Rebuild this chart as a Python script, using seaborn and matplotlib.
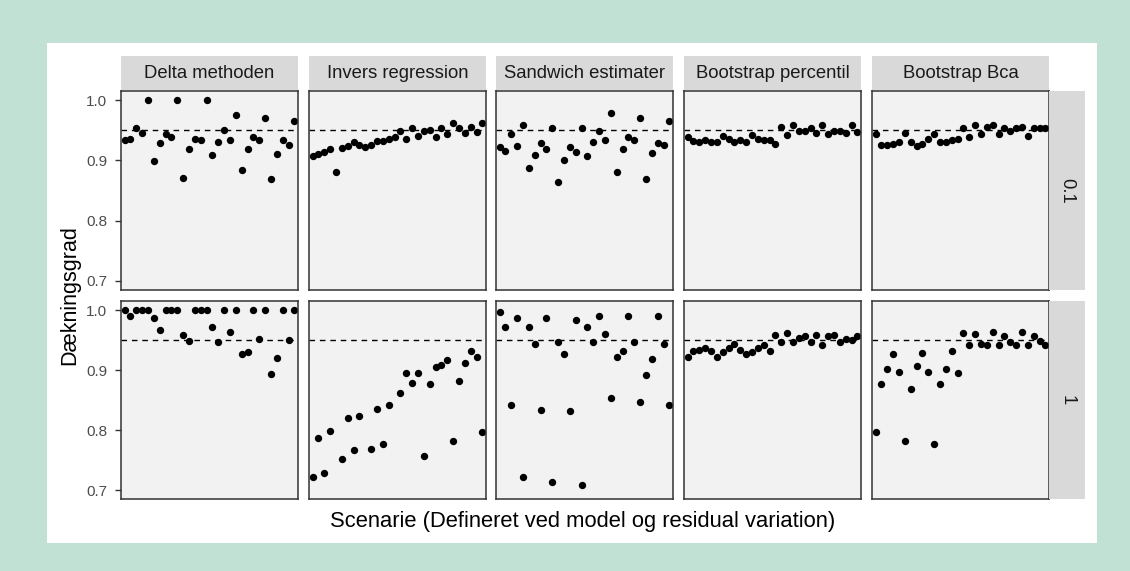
import numpy as np
import pandas as pd
import matplotlib
matplotlib.use("Agg")
import matplotlib.pyplot as plt
from matplotlib.patches import Rectangle
import seaborn as sns

# Coverage of the confidence intervals per method, scenario and residual level
methods = ["Delta methoden", "Invers regression", "Sandwich estimater",
           "Bootstrap percentil", "Bootstrap Bca"]
sigma_levels = ["0.1", "1"]
scenarios = list(range(1, 31))
nominal = 0.95
y_ticks = [0.7, 0.8, 0.9, 1.0]
y_tick_labels = ["0.7", "0.8", "0.9", "1.0"]
x_title = "Scenarie (Defineret ved model og residual variation)"
y_title = "Dækningsgrad"

delta_01 = [0.933, 0.935, 0.953, 0.946, 1.000, 0.899, 0.929, 0.943, 0.938, 1.000,
            0.871, 0.919, 0.935, 0.933, 1.000, 0.909, 0.931, 0.951, 0.933, 0.975,
            0.884, 0.919, 0.938, 0.933, 0.970, 0.869, 0.911, 0.933, 0.925, 0.965]
invers_01 = [0.908, 0.911, 0.914, 0.919, 0.881, 0.921, 0.924, 0.930, 0.926, 0.922,
             0.926, 0.932, 0.932, 0.935, 0.938, 0.948, 0.935, 0.954, 0.941, 0.948,
             0.951, 0.938, 0.954, 0.943, 0.962, 0.953, 0.945, 0.956, 0.947, 0.962]
sandwich_01 = [0.922, 0.916, 0.943, 0.923, 0.958, 0.887, 0.909, 0.929, 0.919, 0.953,
               0.864, 0.901, 0.922, 0.914, 0.953, 0.907, 0.931, 0.948, 0.934, 0.978,
               0.881, 0.919, 0.938, 0.934, 0.970, 0.869, 0.913, 0.929, 0.926, 0.966]
bperc_01 = [0.938, 0.932, 0.930, 0.933, 0.931, 0.930, 0.941, 0.935, 0.930, 0.934,
            0.930, 0.942, 0.935, 0.934, 0.934, 0.927, 0.955, 0.942, 0.958, 0.948,
            0.948, 0.953, 0.945, 0.958, 0.943, 0.948, 0.949, 0.945, 0.958, 0.947]
bbca_01 = [0.943, 0.925, 0.926, 0.927, 0.931, 0.946, 0.930, 0.924, 0.927, 0.935,
           0.944, 0.930, 0.931, 0.933, 0.935, 0.953, 0.938, 0.959, 0.943, 0.956,
           0.958, 0.943, 0.954, 0.949, 0.953, 0.955, 0.940, 0.953, 0.953, 0.954]

delta_1 = [1.000, 0.990, 1.000, 1.000, 1.000, 0.987, 0.967, 1.000, 1.000, 1.000,
           0.958, 0.949, 1.000, 1.000, 1.000, 0.972, 0.947, 1.000, 0.964, 1.000,
           0.927, 0.930, 1.000, 0.952, 1.000, 0.894, 0.920, 1.000, 0.950, 1.000]
invers_1 = [0.722, 0.787, 0.728, 0.799, np.nan, 0.752, 0.820, 0.767, 0.824, np.nan,
            0.769, 0.835, 0.777, 0.842, np.nan, 0.862, 0.895, 0.879, 0.895, 0.757,
            0.877, 0.905, 0.909, 0.917, 0.782, 0.882, 0.912, 0.932, 0.922, 0.797]
sandwich_1 = [0.997, 0.972, 0.842, 0.987, 0.722, 0.972, 0.944, 0.834, 0.987, 0.714,
              0.947, 0.927, 0.832, 0.984, 0.709, 0.972, 0.947, 0.990, 0.960, 0.854,
              0.922, 0.932, 0.990, 0.947, 0.847, 0.892, 0.919, 0.990, 0.944, 0.842]
bperc_1 = [0.922, 0.932, 0.934, 0.936, 0.932, 0.922, 0.930, 0.937, 0.944, 0.934,
           0.927, 0.930, 0.936, 0.942, 0.932, 0.959, 0.947, 0.961, 0.947, 0.954,
           0.957, 0.947, 0.959, 0.942, 0.956, 0.958, 0.947, 0.952, 0.950, 0.957]
bbca_1 = [0.797, 0.877, 0.902, 0.927, 0.897, 0.782, 0.869, 0.907, 0.929, 0.897,
          0.777, 0.877, 0.902, 0.932, 0.895, 0.962, 0.942, 0.960, 0.944, 0.942,
          0.964, 0.942, 0.957, 0.947, 0.942, 0.964, 0.942, 0.957, 0.949, 0.942]

series = {
    ("0.1", "Delta methoden"): delta_01,
    ("0.1", "Invers regression"): invers_01,
    ("0.1", "Sandwich estimater"): sandwich_01,
    ("0.1", "Bootstrap percentil"): bperc_01,
    ("0.1", "Bootstrap Bca"): bbca_01,
    ("1", "Delta methoden"): delta_1,
    ("1", "Invers regression"): invers_1,
    ("1", "Sandwich estimater"): sandwich_1,
    ("1", "Bootstrap percentil"): bperc_1,
    ("1", "Bootstrap Bca"): bbca_1,
}

rows = []
for (sig, meth), vals in series.items():
    for sc, v in zip(scenarios, vals):
        rows.append({"sigma": sig, "method": meth, "scenario": sc, "coverage": v})
df = pd.DataFrame(rows).dropna()

sns.set_theme(style="white")
plt.rcParams["font.family"] = ["Liberation Sans", "DejaVu Sans"]

W, H = 1130, 571
fig = plt.figure(figsize=(W / 100, H / 100), dpi=100)
fig.patch.set_facecolor("#c0e1d3")


def fx(px):
    return px / W


def fy(py):
    return 1 - py / H


# white card behind the chart
fig.add_artist(Rectangle((fx(47), fy(543)), fx(1097) - fx(47), fy(43) - fy(543),
                         transform=fig.transFigure, facecolor="white",
                         edgecolor="none", zorder=0))

col_x = [(121, 298), (309, 486), (496, 673), (684, 861), (872, 1049)]
row_y = [(91, 290), (301, 499)]
strip_top = (56, 90)
strip_right = (1049, 1085)

for r, sig in enumerate(sigma_levels):
    y0, y1 = row_y[r]
    for c, meth in enumerate(methods):
        x0, x1 = col_x[c]
        ax = fig.add_axes([fx(x0), fy(y1), fx(x1) - fx(x0), fy(y0) - fy(y1)])
        ax.set_facecolor("#f2f2f2")
        sub = df[(df["sigma"] == sig) & (df["method"] == meth)]
        ax.axhline(nominal, color="black", lw=1.0, ls=(0, (4, 3.5)), zorder=1)
        sns.scatterplot(data=sub, x="scenario", y="coverage", ax=ax, color="black",
                        s=28, linewidth=0, legend=False, zorder=2)
        ax.set_xlim(0.4, 30.6)
        ax.set_ylim(0.685, 1.015)
        ax.set_xticks([])
        ax.set_xlabel("")
        ax.set_ylabel("")
        for sp in ax.spines.values():
            sp.set_color("#333333")
            sp.set_linewidth(1.1)
        if c == 0:
            ax.set_yticks(y_ticks)
            ax.set_yticklabels(y_tick_labels)
            ax.tick_params(axis="y", length=4, width=1, color="#333333",
                           labelcolor="#4d4d4d", labelsize=11, pad=6, left=True)
        else:
            ax.set_yticks([])

        # top strip with method name
        if r == 0:
            fig.add_artist(Rectangle((fx(x0), fy(strip_top[1])), fx(x1) - fx(x0),
                                     fy(strip_top[0]) - fy(strip_top[1]),
                                     transform=fig.transFigure, facecolor="#d9d9d9",
                                     edgecolor="none"))
            fig.text(fx((x0 + x1) / 2), fy((strip_top[0] + strip_top[1]) / 2), meth,
                     ha="center", va="center", fontsize=13.3, color="#1a1a1a")

    # right strip with residual level
    fig.add_artist(Rectangle((fx(strip_right[0]), fy(y1)),
                             fx(strip_right[1]) - fx(strip_right[0]),
                             fy(y0) - fy(y1), transform=fig.transFigure,
                             facecolor="#d9d9d9", edgecolor="none"))
    fig.text(fx((strip_right[0] + strip_right[1]) / 2), fy((y0 + y1) / 2), sig,
             ha="center", va="center", rotation=-90, fontsize=13.3, color="#1a1a1a")

fig.text(fx(583), fy(521), x_title, ha="center", va="center", fontsize=15.8,
         color="black")
fig.text(fx(70), fy(295), y_title, ha="center", va="center", rotation=90,
         fontsize=15.5, color="black")

fig.savefig("out.png", dpi=100, facecolor=fig.get_facecolor())
